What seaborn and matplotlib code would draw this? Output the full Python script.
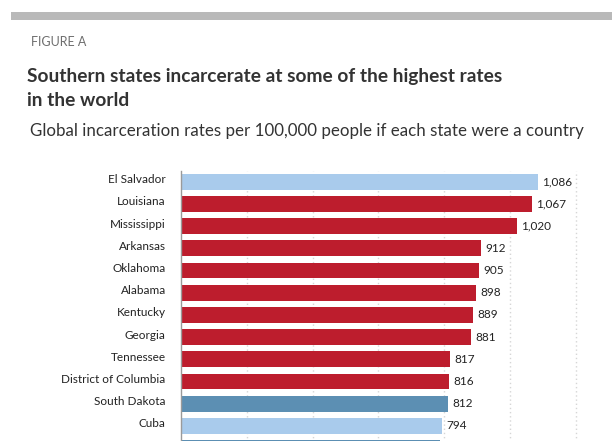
import matplotlib
matplotlib.use("Agg")
import matplotlib.pyplot as plt
import matplotlib.transforms as mtransforms
import seaborn as sns
import pandas as pd

# ---- data ----
places = ["El Salvador", "Louisiana", "Mississippi", "Arkansas", "Oklahoma",
          "Alabama", "Kentucky", "Georgia", "Tennessee", "District of Columbia",
          "South Dakota", "Cuba", "Arizona"]
rates = [1086, 1067, 1020, 912, 905, 898, 889, 881, 817, 816, 812, 794, 787]
groups = ["Country", "Southern state", "Southern state", "Southern state",
          "Southern state", "Southern state", "Southern state", "Southern state",
          "Southern state", "Southern state", "Other state", "Country", "Other state"]
grid_ticks = [200, 400, 600, 800, 1000, 1200]

palette = {"Country": "#a9cbec", "Southern state": "#bd1d2d", "Other state": "#5c8fb3"}

df = pd.DataFrame({"place": places, "rate": rates, "group": groups})

sns.set_theme(style="white")
plt.rcParams["font.family"] = ["Lato", "DejaVu Sans"]

W, H = 612, 441
fig = plt.figure(figsize=(W / 100, H / 100), dpi=100)

# axes placement (pixel geometry)
left_px = 181
top_px = 170.6
bottom_px = 459.2
ax = fig.add_axes([left_px / W, (H - bottom_px) / H, 1 - left_px / W, (bottom_px - top_px) / H])

sns.barplot(data=df, x="rate", y="place", hue="group", palette=palette,
            dodge=False, width=0.71, legend=False, orient="h", ax=ax,
            saturation=1, linewidth=0)

n_visible = 12  # last row is cut off by the bottom edge of the figure

ax.set_xlim(0, (W - left_px) / 0.329)
ax.set_ylim(len(places) - 0.5, -0.5)
ax.set_xticks(grid_ticks)
ax.set_xticklabels([])
ax.tick_params(axis="x", length=0)
ax.set_yticks(range(len(places)))
ax.set_yticklabels([p if i < n_visible else "" for i, p in enumerate(places)])
ax.tick_params(axis="y", length=0, pad=11, labelsize=8.5, labelcolor="#222222")
up = mtransforms.ScaledTranslation(0, 3 / 100, fig.dpi_scale_trans)
for lab in ax.get_yticklabels():
    lab.set_transform(lab.get_transform() + up)
ax.set_xlabel("")
ax.set_ylabel("")
for t in grid_ticks:
    ax.axvline(t, color="#d6d6d6", lw=1.0, ls=(0, (1, 2)), zorder=0)
for s in ["top", "right", "bottom"]:
    ax.spines[s].set_visible(False)
ax.spines["left"].set_color("#9a9a9a")
ax.spines["left"].set_linewidth(1.0)

down = mtransforms.ScaledTranslation(0, -2 / 100, fig.dpi_scale_trans)
for cont in ax.containers:
    labels = []
    for bar, v in zip(cont.patches, cont.datavalues):
        idx = int(round(bar.get_y() + bar.get_height() / 2))
        labels.append(f"{v:,.0f}" if idx < n_visible else "")
    texts = ax.bar_label(cont, labels=labels, padding=3, fontsize=8.5, color="#222222")
    for t in texts:
        t.set_transform(t.get_transform() + down)

# header
fig.patches.append(plt.Rectangle((11 / W, 1 - 19.7 / H), 1, 7.7 / H,
                                 transform=fig.transFigure, color="#b9b9b9", lw=0))
fig.text(31 / W, 1 - 46.3 / H, "FIGURE A", fontsize=9, color="#6e6e6e")
fig.text(27 / W, 1 - 82 / H,
         "Southern states incarcerate at some of the highest rates",
         fontsize=13.8, fontweight="bold", color="#333333")
fig.text(27 / W, 1 - 106 / H, "in the world",
         fontsize=13.8, fontweight="bold", color="#333333")
fig.text(30 / W, 1 - 136 / H,
         "Global incarceration rates per 100,000 people if each state were a country",
         fontsize=12.2, color="#333333")

fig.savefig("out.png", dpi=100)
